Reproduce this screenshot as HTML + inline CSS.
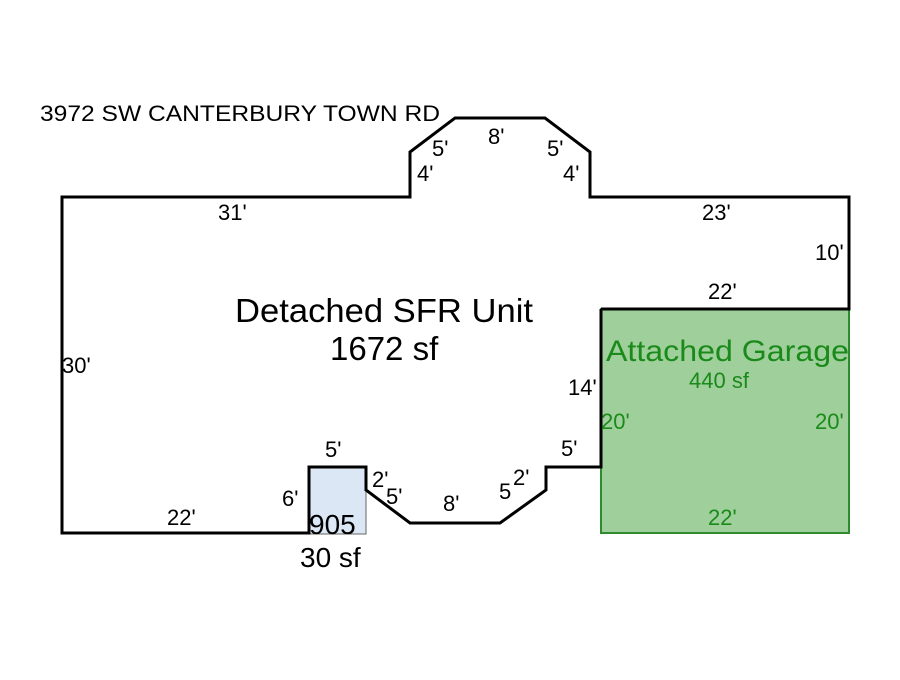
<!DOCTYPE html>
<html><head><style>
body{margin:0;background:#fff;}
svg text{font-family:"Liberation Sans",sans-serif;}
</style></head><body>
<svg width="900" height="675" viewBox="0 0 900 675" xmlns="http://www.w3.org/2000/svg">
<rect x="601" y="309" width="248" height="224" fill="#9fcf9a" stroke="#2e8b2e" stroke-width="2"/>
<rect x="309" y="467" width="57" height="67" fill="#dbe7f5" stroke="#666" stroke-width="1"/>
<polyline fill="none" stroke="#000" stroke-width="3" stroke-linejoin="miter"
 points="601,309 849,309 849,197 590,197 590,152 545,118 455,118 410,152 410,197 62,197 62,533 309,533 309,467 366,467 366,490 410,523 500,523 546,490 546,467 601,467 601,309"/>
<text x="40" y="121" font-size="22" textLength="400" lengthAdjust="spacingAndGlyphs">3972 SW CANTERBURY TOWN RD</text>
<g font-size="22" fill="#000">
<text x="432" y="156">5'</text>
<text x="417" y="181">4'</text>
<text x="488" y="144">8'</text>
<text x="547" y="156">5'</text>
<text x="563" y="181">4'</text>
<text x="218" y="220">31'</text>
<text x="702" y="220">23'</text>
<text x="815" y="260">10'</text>
<text x="708" y="299">22'</text>
<text x="62" y="373">30'</text>
<text x="568" y="395">14'</text>
<text x="325" y="457">5'</text>
<text x="561" y="456">5'</text>
<text x="282" y="506">6'</text>
<text x="372" y="487">2'</text>
<text x="386" y="504">5'</text>
<text x="443" y="511">8'</text>
<text x="499" y="499">5</text>
<text x="513" y="485">2'</text>
<text x="167" y="525">22'</text>
</g>
<text x="235" y="322" font-size="33" textLength="298" lengthAdjust="spacingAndGlyphs">Detached SFR Unit</text>
<text x="330" y="360" font-size="33">1672 sf</text>
<text x="309" y="534" font-size="28">905</text>
<text x="300" y="567" font-size="28">30 sf</text>
<g fill="#1a8a1a">
<text x="606" y="361" font-size="30" textLength="243" lengthAdjust="spacingAndGlyphs">Attached Garage</text>
<text x="689" y="388" font-size="22">440 sf</text>
<text x="601" y="429" font-size="22">20'</text>
<text x="815" y="429" font-size="22">20'</text>
<text x="708" y="525" font-size="22">22'</text>
</g>
</svg>
</body></html>
